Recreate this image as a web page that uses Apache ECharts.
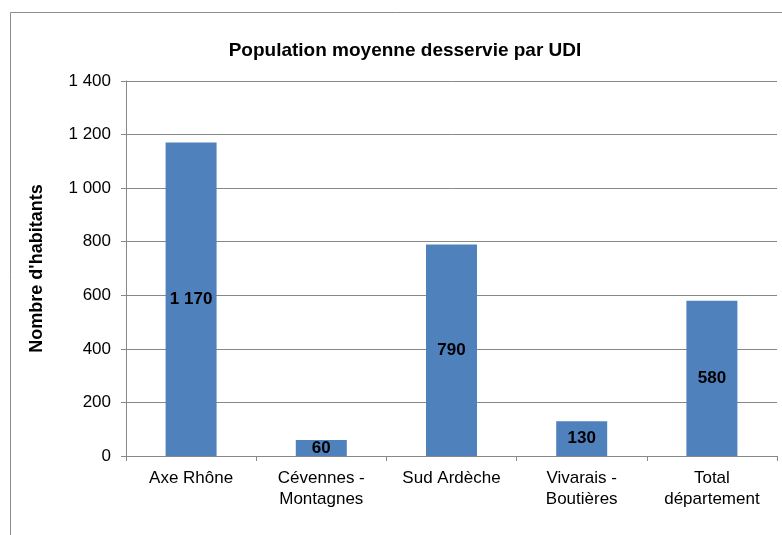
<!DOCTYPE html>
<html><head><meta charset="utf-8">
<script src="https://cdn.jsdelivr.net/npm/echarts@6/dist/echarts.min.js"></script>
<style>html,body{margin:0;padding:0;background:#fff}#c{width:782px;height:535px}</style>
</head><body><div id="c"></div>
<script>
const categories = ['Axe Rhône', 'Cévennes -\nMontagnes', 'Sud Ardèche', 'Vivarais -\nBoutières', 'Total\ndépartement'];
const values = [1170, 60, 790, 130, 580];
const yTicks = [0, 200, 400, 600, 800, 1000, 1200, 1400];
const titleText = 'Population moyenne desservie par UDI';
const yName = "Nombre d'habitants";

function fmt(v){ return String(v).replace(/\B(?=(\d{3})+(?!\d))/g, ' '); }

const chart = echarts.init(document.getElementById('c'));
chart.setOption({
  animation: false,
  graphic: [{ type: 'rect', shape: { x: 10.5, y: 12.5, width: 900, height: 700 },
    style: { fill: 'none', stroke: '#8c8c8c', lineWidth: 1 }, silent: true }],
  title: { text: titleText, left: 400, top: 36, textAlign: 'center',
    textStyle: { fontFamily: 'Liberation Sans', fontSize: 19, fontWeight: 'bold', color: '#000' } },
  grid: { left: 126, right: 5, top: 81, bottom: 79, containLabel: false },
  xAxis: { type: 'category', data: categories,
    axisLine: { lineStyle: { color: '#888', width: 1 } },
    axisTick: { show: true, length: 5, alignWithLabel: false, lineStyle: { color: '#888' } },
    axisLabel: { fontFamily: 'Liberation Sans', fontSize: 17, color: '#000', margin: 12, lineHeight: 21, interval: 0 } },
  yAxis: { type: 'value', min: yTicks[0], max: yTicks[yTicks.length-1], interval: 200,
    name: yName, nameLocation: 'middle', nameGap: 80, nameRotate: 90,
    nameTextStyle: { fontFamily: 'Liberation Sans', fontSize: 18, fontWeight: 'bold', color: '#000' },
    axisLine: { show: true, lineStyle: { color: '#888' } },
    axisTick: { show: true, length: 5, lineStyle: { color: '#888' } },
    splitLine: { lineStyle: { color: '#888', width: 1 } },
    axisLabel: { fontFamily: 'Liberation Sans', fontSize: 17, color: '#000', margin: 15, formatter: v => fmt(v) } },
  series: [{ type: 'bar', data: values, barWidth: 51,
    itemStyle: { color: '#4f81bd' },
    label: { show: true, position: 'inside', fontFamily: 'Liberation Sans', fontSize: 17, fontWeight: 'bold', color: '#000',
      formatter: p => fmt(p.value) } }]
});
</script></body></html>
